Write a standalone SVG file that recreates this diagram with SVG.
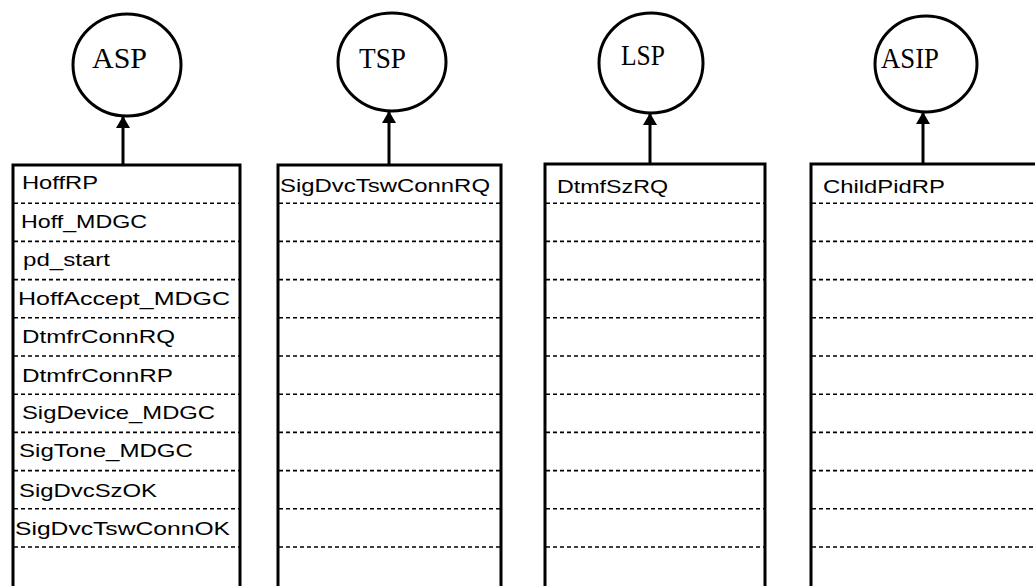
<svg xmlns="http://www.w3.org/2000/svg" width="1035" height="586" viewBox="0 0 1035 586">
  <defs>
    <style>
      .proc { fill: #fff; stroke: #000; stroke-width: 3; }
      .proc-label { font-family: "Liberation Serif", "Times New Roman", serif; font-size: 29px; fill: #000; }
      .frame { fill: none; stroke: #000; stroke-width: 3; }
      .row { stroke: #000; stroke-width: 1.6; stroke-dasharray: 4 3; }
      .msg { font-family: "Liberation Sans", Arial, sans-serif; font-size: 19px; fill: #000; }
      .link { stroke: #000; stroke-width: 3; fill: none; }
    </style>
    <marker id="head" viewBox="0 0 12 14" refX="12" refY="7" markerWidth="12" markerHeight="14" markerUnits="userSpaceOnUse" orient="auto">
      <path d="M0,0 L12,7 L0,14 Z" fill="#000"/>
    </marker>
  </defs>

  <!-- process circles -->
  <g id="asp">
    <ellipse class="proc" cx="127" cy="65" rx="54" ry="51"/>
    <text class="proc-label" x="92" y="68" textLength="55" lengthAdjust="spacingAndGlyphs">ASP</text>
  </g>
  <g id="tsp">
    <ellipse class="proc" cx="392" cy="62" rx="54" ry="49"/>
    <text class="proc-label" x="359" y="68" textLength="47" lengthAdjust="spacingAndGlyphs">TSP</text>
  </g>
  <g id="lsp">
    <ellipse class="proc" cx="651" cy="63" rx="52" ry="50"/>
    <text class="proc-label" x="621" y="65" textLength="44" lengthAdjust="spacingAndGlyphs">LSP</text>
  </g>
  <g id="asip">
    <ellipse class="proc" cx="926" cy="64" rx="51" ry="48"/>
    <text class="proc-label" x="881" y="68" textLength="58" lengthAdjust="spacingAndGlyphs">ASIP</text>
  </g>

  <!-- message queues: open-bottomed frames, ten dashed separators 38.2px apart -->
  <g id="queue-asp">
    <path class="frame" d="M13,586 V165 H240 V586"/>
    <g class="row-set">
      <line class="row" x1="14" y1="203.2" x2="239" y2="203.2"/>
      <line class="row" x1="14" y1="241.4" x2="239" y2="241.4"/>
      <line class="row" x1="14" y1="279.6" x2="239" y2="279.6"/>
      <line class="row" x1="14" y1="317.8" x2="239" y2="317.8"/>
      <line class="row" x1="14" y1="356" x2="239" y2="356"/>
      <line class="row" x1="14" y1="394.2" x2="239" y2="394.2"/>
      <line class="row" x1="14" y1="432.4" x2="239" y2="432.4"/>
      <line class="row" x1="14" y1="470.6" x2="239" y2="470.6"/>
      <line class="row" x1="14" y1="508.8" x2="239" y2="508.8"/>
      <line class="row" x1="14" y1="547" x2="239" y2="547"/>
    </g>
    <text class="msg" x="22" y="189" textLength="76" lengthAdjust="spacingAndGlyphs">HoffRP</text>
    <text class="msg" x="21" y="228" textLength="126" lengthAdjust="spacingAndGlyphs">Hoff_MDGC</text>
    <text class="msg" x="23" y="266" textLength="87" lengthAdjust="spacingAndGlyphs">pd_start</text>
    <text class="msg" x="18" y="305" textLength="212" lengthAdjust="spacingAndGlyphs">HoffAccept_MDGC</text>
    <text class="msg" x="22" y="343" textLength="153" lengthAdjust="spacingAndGlyphs">DtmfrConnRQ</text>
    <text class="msg" x="22" y="382" textLength="151" lengthAdjust="spacingAndGlyphs">DtmfrConnRP</text>
    <text class="msg" x="22" y="419" textLength="193" lengthAdjust="spacingAndGlyphs">SigDevice_MDGC</text>
    <text class="msg" x="19" y="457" textLength="174" lengthAdjust="spacingAndGlyphs">SigTone_MDGC</text>
    <text class="msg" x="19" y="497" textLength="138" lengthAdjust="spacingAndGlyphs">SigDvcSzOK</text>
    <text class="msg" x="15" y="535" textLength="215" lengthAdjust="spacingAndGlyphs">SigDvcTswConnOK</text>
  </g>

  <g id="queue-tsp">
    <path class="frame" d="M278,586 V165 H501 V586"/>
    <g class="row-set">
      <line class="row" x1="279" y1="203.2" x2="500" y2="203.2"/>
      <line class="row" x1="279" y1="241.4" x2="500" y2="241.4"/>
      <line class="row" x1="279" y1="279.6" x2="500" y2="279.6"/>
      <line class="row" x1="279" y1="317.8" x2="500" y2="317.8"/>
      <line class="row" x1="279" y1="356" x2="500" y2="356"/>
      <line class="row" x1="279" y1="394.2" x2="500" y2="394.2"/>
      <line class="row" x1="279" y1="432.4" x2="500" y2="432.4"/>
      <line class="row" x1="279" y1="470.6" x2="500" y2="470.6"/>
      <line class="row" x1="279" y1="508.8" x2="500" y2="508.8"/>
      <line class="row" x1="279" y1="547" x2="500" y2="547"/>
    </g>
    <text class="msg" x="280" y="192" textLength="210" lengthAdjust="spacingAndGlyphs">SigDvcTswConnRQ</text>
  </g>

  <g id="queue-lsp">
    <path class="frame" d="M545,586 V164 H765 V586"/>
    <g class="row-set">
      <line class="row" x1="546" y1="203.2" x2="764" y2="203.2"/>
      <line class="row" x1="546" y1="241.4" x2="764" y2="241.4"/>
      <line class="row" x1="546" y1="279.6" x2="764" y2="279.6"/>
      <line class="row" x1="546" y1="317.8" x2="764" y2="317.8"/>
      <line class="row" x1="546" y1="356" x2="764" y2="356"/>
      <line class="row" x1="546" y1="394.2" x2="764" y2="394.2"/>
      <line class="row" x1="546" y1="432.4" x2="764" y2="432.4"/>
      <line class="row" x1="546" y1="470.6" x2="764" y2="470.6"/>
      <line class="row" x1="546" y1="508.8" x2="764" y2="508.8"/>
      <line class="row" x1="546" y1="547" x2="764" y2="547"/>
    </g>
    <text class="msg" x="557" y="193" textLength="111" lengthAdjust="spacingAndGlyphs">DtmfSzRQ</text>
  </g>

  <g id="queue-asip">
    <path class="frame" d="M811,586 V164 H1035"/>
    <g class="row-set">
      <line class="row" x1="812" y1="203.2" x2="1033" y2="203.2"/>
      <line class="row" x1="812" y1="241.4" x2="1033" y2="241.4"/>
      <line class="row" x1="812" y1="279.6" x2="1033" y2="279.6"/>
      <line class="row" x1="812" y1="317.8" x2="1033" y2="317.8"/>
      <line class="row" x1="812" y1="356" x2="1033" y2="356"/>
      <line class="row" x1="812" y1="394.2" x2="1033" y2="394.2"/>
      <line class="row" x1="812" y1="432.4" x2="1033" y2="432.4"/>
      <line class="row" x1="812" y1="470.6" x2="1033" y2="470.6"/>
      <line class="row" x1="812" y1="508.8" x2="1033" y2="508.8"/>
      <line class="row" x1="812" y1="547" x2="1033" y2="547"/>
    </g>
    <text class="msg" x="823" y="193" textLength="122" lengthAdjust="spacingAndGlyphs">ChildPidRP</text>
  </g>

  <!-- queue-to-process connectors -->
  <g id="connectors">
    <line class="link" x1="123" y1="165" x2="123" y2="116" marker-end="url(#head)"/>
    <line class="link" x1="389" y1="165" x2="389" y2="111" marker-end="url(#head)"/>
    <line class="link" x1="650" y1="164" x2="650" y2="113" marker-end="url(#head)"/>
    <line class="link" x1="923" y1="164" x2="923" y2="112" marker-end="url(#head)"/>
  </g>
</svg>
